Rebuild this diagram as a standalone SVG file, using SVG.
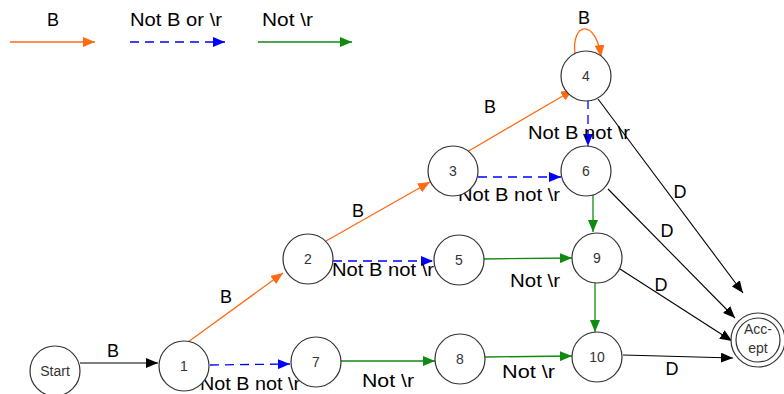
<svg xmlns="http://www.w3.org/2000/svg" width="784" height="394" viewBox="0 0 784 394">
<defs>
<marker id="ao" viewBox="0 0 12 10" refX="12" refY="5" markerWidth="12" markerHeight="10" markerUnits="userSpaceOnUse" orient="auto"><path d="M0,0 L12,5 L0,10 z" fill="#ff6a13"/></marker>
<marker id="ab" viewBox="0 0 12 10" refX="12" refY="5" markerWidth="12" markerHeight="10" markerUnits="userSpaceOnUse" orient="auto"><path d="M0,0 L12,5 L0,10 z" fill="#0000ff"/></marker>
<marker id="ag" viewBox="0 0 12 10" refX="12" refY="5" markerWidth="12" markerHeight="10" markerUnits="userSpaceOnUse" orient="auto"><path d="M0,0 L12,5 L0,10 z" fill="#108a10"/></marker>
<marker id="ak" viewBox="0 0 12 10" refX="12" refY="5" markerWidth="12" markerHeight="10" markerUnits="userSpaceOnUse" orient="auto"><path d="M0,0 L12,5 L0,10 z" fill="#000"/></marker>
</defs>
<style>
.n{fill:#fff;stroke:#333;stroke-width:1.2}
.nt{font-family:"Liberation Sans",Arial,sans-serif;font-size:14px;fill:#333;text-anchor:middle}
.l{font-family:"Liberation Sans",Arial,sans-serif;font-size:18px;fill:#000}
.o{stroke:#ff6a13;stroke-width:1.3;fill:none;marker-end:url(#ao)}
.b{stroke:#0000ff;stroke-width:1.3;fill:none;stroke-dasharray:9,6;marker-end:url(#ab)}
.g{stroke:#108a10;stroke-width:1.3;fill:none;marker-end:url(#ag)}
.k{stroke:#000;stroke-width:1.1;fill:none;marker-end:url(#ak)}
</style>
<rect width="784" height="394" fill="#fff"/>
<g id="legend">
<text class="l" x="53" y="26" text-anchor="middle">B</text>
<line class="o" x1="10" y1="42" x2="95" y2="42"/>
<text class="l" x="130" y="26" textLength="92" lengthAdjust="spacingAndGlyphs">Not B or \r</text>
<line class="b" x1="130" y1="42" x2="225" y2="42"/>
<text class="l" x="262" y="26" textLength="51" lengthAdjust="spacingAndGlyphs">Not \r</text>
<line class="g" x1="258" y1="42" x2="352" y2="42"/>
</g>
<g id="connectors">
<line class="k" x1="80" y1="363" x2="158" y2="363"/>
<line class="o" x1="188" y1="342" x2="283" y2="273"/>
<line class="o" x1="326" y1="241" x2="430" y2="182"/>
<line class="o" x1="467" y1="152" x2="573" y2="90"/>
<path class="o" d="M575,54 C571,22 596,18 601,57"/>
<line class="b" x1="210" y1="365" x2="290" y2="364"/>
<line class="b" x1="333" y1="261" x2="433" y2="261"/>
<line class="b" x1="478" y1="177" x2="561" y2="177"/>
<line class="b" x1="588" y1="100" x2="588" y2="146"/>
<line class="g" x1="341" y1="361" x2="435" y2="361"/>
<line class="g" x1="485" y1="357" x2="572" y2="356"/>
<line class="g" x1="483" y1="259" x2="572" y2="258"/>
<line class="g" x1="593" y1="194" x2="593" y2="232"/>
<line class="g" x1="595" y1="283" x2="595" y2="332"/>
<line class="k" x1="598" y1="99" x2="743" y2="293"/>
<line class="k" x1="608" y1="189" x2="735" y2="318"/>
<line class="k" x1="620" y1="269" x2="732" y2="341"/>
<line class="k" x1="623" y1="355" x2="733" y2="358"/>
</g>
<g id="labels">
<text class="l" x="113" y="357" text-anchor="middle">B</text>
<text class="l" x="226" y="303" text-anchor="middle">B</text>
<text class="l" x="358" y="217" text-anchor="middle">B</text>
<text class="l" x="490" y="113" text-anchor="middle">B</text>
<text class="l" x="584" y="24" text-anchor="middle">B</text>
<text class="l" x="200" y="390" textLength="100" lengthAdjust="spacingAndGlyphs">Not B not \r</text>
<text class="l" x="332" y="276" textLength="102" lengthAdjust="spacingAndGlyphs">Not B not \r</text>
<text class="l" x="458" y="201" textLength="102" lengthAdjust="spacingAndGlyphs">Not B not \r</text>
<text class="l" x="528" y="139" textLength="102" lengthAdjust="spacingAndGlyphs">Not B not \r</text>
<text class="l" x="362" y="387" textLength="52" lengthAdjust="spacingAndGlyphs">Not \r</text>
<text class="l" x="502" y="378" textLength="53" lengthAdjust="spacingAndGlyphs">Not \r</text>
<text class="l" x="510" y="287" textLength="50" lengthAdjust="spacingAndGlyphs">Not \r</text>
<text class="l" x="680" y="198" text-anchor="middle">D</text>
<text class="l" x="667" y="237" text-anchor="middle">D</text>
<text class="l" x="661" y="291" text-anchor="middle">D</text>
<text class="l" x="672" y="375" text-anchor="middle">D</text>
</g>
<g id="nStart"><circle class="n" cx="55" cy="371" r="25"/><text class="nt" x="55" y="376" font-size="13">Start</text></g>
<g id="n1"><circle class="n" cx="184" cy="366" r="25"/><text class="nt" x="184" y="371">1</text></g>
<g id="n7"><circle class="n" cx="316" cy="362" r="25"/><text class="nt" x="316" y="367">7</text></g>
<g id="n8"><circle class="n" cx="460" cy="359" r="25"/><text class="nt" x="460" y="364">8</text></g>
<g id="n10"><circle class="n" cx="597" cy="357" r="25"/><text class="nt" x="597" y="362">10</text></g>
<g id="n2"><circle class="n" cx="308" cy="259" r="25"/><text class="nt" x="308" y="264">2</text></g>
<g id="n5"><circle class="n" cx="459" cy="260" r="25"/><text class="nt" x="459" y="265">5</text></g>
<g id="n9"><circle class="n" cx="597" cy="258" r="25"/><text class="nt" x="597" y="263">9</text></g>
<g id="n3"><circle class="n" cx="453" cy="171" r="25"/><text class="nt" x="453" y="176">3</text></g>
<g id="n6"><circle class="n" cx="586" cy="171" r="25"/><text class="nt" x="586" y="176">6</text></g>
<g id="n4"><circle class="n" cx="586" cy="76" r="25"/><text class="nt" x="586" y="81">4</text></g>
<g id="nAccept"><circle class="n" cx="758" cy="340" r="27"/><circle class="n" cx="758" cy="340" r="22"/><text class="nt" x="758" y="334">Acc-</text><text class="nt" x="758" y="353">ept</text></g>
</svg>
